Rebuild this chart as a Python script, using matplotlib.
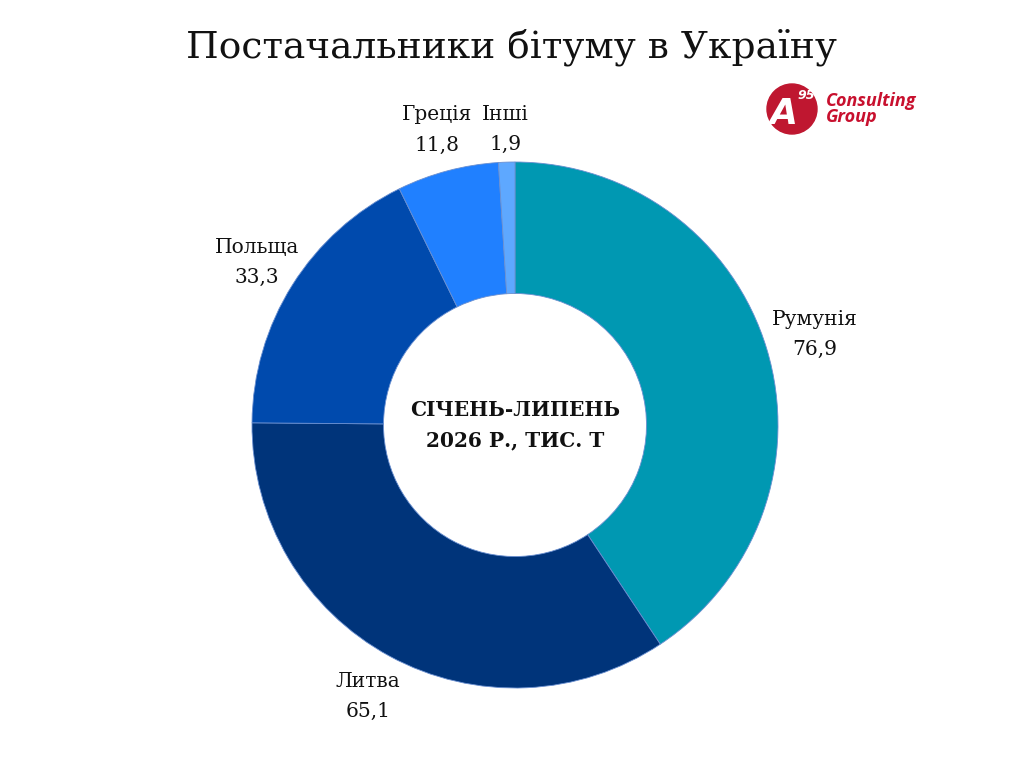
import numpy as np
import matplotlib.pyplot as plt
from matplotlib.patches import Circle

countries = ['Румунія', 'Литва', 'Польща', 'Греція', 'Інші']
values = [76.9, 65.1, 33.3, 11.8, 1.9]
value_labels = ['76,9', '65,1', '33,3', '11,8', '1,9']
colors = ['#0098B2', '#00347A', '#004AAD', '#2080FF', '#5EA8FF']

# how far out each label sits (in radii)
label_dist = [1.19, 1.175, 1.16, 1.16, 1.125]

plt.rcParams['font.family'] = ['DejaVu Serif']

fig = plt.figure(figsize=(10.24, 7.68), dpi=100)
ax = fig.add_axes([0, 0, 1, 1])

labels = [c + '\n' + v for c, v in zip(countries, value_labels)]
wedges, texts = ax.pie(values, labels=labels, colors=colors, startangle=90,
                       counterclock=False, radius=1.0, labeldistance=1.17,
                       wedgeprops=dict(width=0.5, edgecolor='#6a8fd0', linewidth=0.6),
                       textprops=dict(fontsize=14.5, color='#111111', linespacing=1.75))
for w, t, d in zip(wedges, texts, label_dist):
    ang = np.deg2rad((w.theta1 + w.theta2) / 2)
    t.set_position((d * np.cos(ang), d * np.sin(ang)))
    t.set_ha('center')
    t.set_va('center')

ax.set_xlim(-515 / 263, 509 / 263)
ax.set_ylim(-343 / 263, 425 / 263)
ax.set_aspect('auto')
ax.axis('off')

ax.text(0, 0, 'СІЧЕНЬ-ЛИПЕНЬ\n2026 Р., ТИС. Т', ha='center', va='center',
        fontsize=14.5, fontweight='bold', color='#111111', linespacing=1.65)

fig.text(0.5, 0.938, 'Постачальники бітуму в Україну', ha='center', va='center',
         fontsize=27, color='#111111')

# logo
logo_x = 792 / 1024
logo_y = 1 - 109 / 768
fig.patches.append(Circle((792, 768 - 109), 25, transform=None, color='#BF1730'))
fig.text(logo_x - 0.008, logo_y - 0.006, 'A', ha='center', va='center', fontsize=26,
         fontweight='bold', style='italic', color='white', family='DejaVu Sans')
fig.text(logo_x + 0.014, logo_y + 0.018, '95', ha='center', va='center', fontsize=9,
         fontweight='bold', style='italic', color='white', family='DejaVu Sans')
fig.text(826 / 1024, logo_y, 'Consulting\nGroup', ha='left', va='center', fontsize=13,
         fontweight='bold', style='italic', color='#C8102E', family='Open Sans',
         linespacing=0.85)

fig.savefig('out.png', dpi=100, facecolor='white')
